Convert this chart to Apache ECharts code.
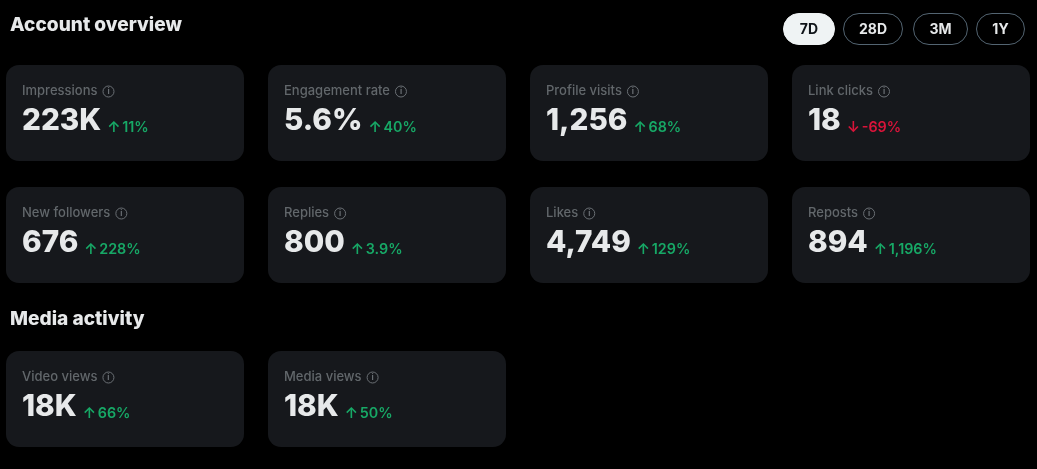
<!DOCTYPE html>
<html>
<head>
<meta charset="utf-8">
<title>Account overview</title>
<script src="https://cdn.jsdelivr.net/npm/echarts@6/dist/echarts.min.js"></script>
<style>
html, body { margin: 0; padding: 0; background: #000; }
#chart { width: 1037px; height: 469px; }
</style>
</head>
<body>
<div id="chart"></div>
<script>
var sections = ['Account overview', 'Media activity'];
var ranges = ['7D', '28D', '3M', '1Y'];
var labels = ['Impressions', 'Engagement rate', 'Profile visits', 'Link clicks',
              'New followers', 'Replies', 'Likes', 'Reposts',
              'Video views', 'Media views'];
var values = ['223K', '5.6%', '1,256', '18', '676', '800', '4,749', '894', '18K', '18K'];
var changes = ['11%', '40%', '68%', '-69%', '228%', '3.9%', '129%', '1,196%', '66%', '50%'];

var FONT = 'Inter, Roboto, "Noto Sans", sans-serif';
var cardX = [6, 268, 530, 792];
var cardY = [65, 187, 351];
var pillX = [783, 843, 913, 976];
var pillW = [52, 60, 55, 49];

var ctx = document.createElement('canvas').getContext('2d');
function textW(str, font) {
    ctx.font = font;
    return ctx.measureText(str).width;
}

function txt(x, y, str, size, weight, color, align) {
    return {
        type: 'text',
        x: x,
        y: y,
        style: {
            text: str,
            fill: color,
            font: weight + ' ' + size + 'px ' + FONT,
            textAlign: align || 'left',
            textVerticalAlign: 'middle'
        }
    };
}

var els = [];
els.push(txt(10, 25.5, sections[0], 19.1, 800, '#e7e9ea'));
els.push(txt(10, 319.5, sections[1], 19.1, 800, '#e7e9ea'));

ranges.forEach(function (r, i) {
    var on = i === 0;
    els.push({
        type: 'rect',
        shape: { x: pillX[i] + 0.5, y: 13.5, width: pillW[i] - 1, height: 31, r: 15.5 },
        style: { fill: on ? '#eff3f4' : '#000', stroke: on ? '#eff3f4' : '#536471', lineWidth: 1 }
    });
    els.push(txt(pillX[i] + pillW[i] / 2, 29.5, r, 14, 700, on ? '#0f1419' : '#e7e9ea', 'center'));
});

labels.forEach(function (label, i) {
    var row = i < 4 ? 0 : (i < 8 ? 1 : 2);
    var x = cardX[i % 4];
    var y = cardY[row];
    els.push({
        type: 'rect',
        shape: { x: x, y: y, width: 238, height: 96, r: 13 },
        style: { fill: '#16181c' }
    });

    // label and the little info icon after it
    var lx = x + 16;
    var labelFont = '500 13px ' + FONT;
    els.push(txt(lx, y + 26.5, label, 13, 500, '#62676b'));
    var ix = lx + textW(label, labelFont) + 11;
    els.push({
        type: 'circle',
        shape: { cx: ix, cy: y + 26.5, r: 5.5 },
        style: { fill: 'none', stroke: '#6a6f74', lineWidth: 1 }
    });
    els.push(txt(ix, y + 26.5, 'i', 8, 700, '#6a6f74', 'center'));

    // big number then the change
    var valueFont = '800 29.7px ' + FONT;
    els.push(txt(lx, y + 56, values[i], 29.7, 800, '#e7e9ea'));
    var ax = lx + textW(values[i], valueFont) + 6;
    var down = changes[i].charAt(0) === '-';
    var col = down ? '#d9143a' : '#17a866';
    els.push(txt(ax, y + 62.5, down ? '↓' : '↑', 15, 600, col));
    els.push(txt(ax + 15, y + 62.5, changes[i], 14.3, 600, col));
});

var myChart = echarts.init(document.getElementById('chart'), null, { renderer: 'canvas' });
myChart.setOption({
    backgroundColor: '#000',
    animation: false,
    graphic: { elements: els }
});
</script>
</body>
</html>
